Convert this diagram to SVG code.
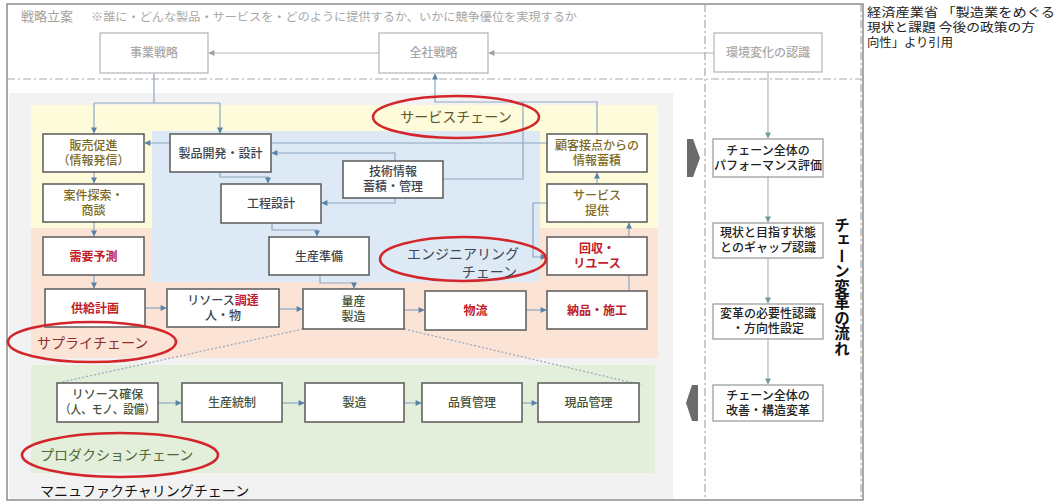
<svg xmlns="http://www.w3.org/2000/svg" width="1061" height="503" viewBox="0 0 1061 503">
<style>
text{font-family:'Noto Sans CJK JP','Noto Sans',sans-serif;}
.bx{fill:#fff;stroke:#5a5a5a;stroke-width:1.5;}
.sb{fill:#fff;stroke:#b4b4b4;stroke-width:1.2;}
.fb{fill:#fff;stroke:#8c8c8c;stroke-width:1.1;}
.t{font-size:12px;text-anchor:middle;font-weight:500;}
.dk{fill:#3c4450;}
.ol{fill:#7d6a1e;}
.rd{fill:#c0202a;font-weight:bold;}
.gn{fill:#45523a;}
.st{fill:#a8a8a8;}
.c{fill:none;stroke:#8ea7c2;stroke-width:1.2;}
.cg{fill:none;stroke:#b5b5b5;stroke-width:1.2;}
.dd{fill:none;stroke:#a8a8a8;stroke-width:1.2;stroke-dasharray:8 3 2 3;}
.dot{fill:none;stroke:#9aabc0;stroke-width:1.3;stroke-dasharray:2 2;}
.el{fill:none;stroke:#d3262a;stroke-width:2.6;}
.lbl{font-size:14px;}
</style>
<defs>
<marker id="ab" viewBox="0 0 10 10" refX="9" refY="5" markerWidth="7" markerHeight="6" markerUnits="userSpaceOnUse" orient="auto"><path d="M0,0 L10,5 L0,10 z" fill="#5a83ab"/></marker>
<marker id="ag" viewBox="0 0 10 10" refX="9" refY="5" markerWidth="7" markerHeight="6" markerUnits="userSpaceOnUse" orient="auto"><path d="M0,0 L10,5 L0,10 z" fill="#a0a0a0"/></marker>
<marker id="at" viewBox="0 0 10 10" refX="9" refY="5" markerWidth="7" markerHeight="6" markerUnits="userSpaceOnUse" orient="auto"><path d="M0,0 L10,5 L0,10 z" fill="#6f9a9e"/></marker>
</defs>
<rect width="1061" height="503" fill="#fff"/>
<g id="backgrounds">
<rect x="9" y="93" width="664" height="406" fill="#f2f2f2"/>
<rect x="31" y="105" width="627" height="124" fill="#fdfbda"/>
<rect x="31" y="228" width="627" height="130" fill="#fbe4d6"/>
<rect x="152" y="131" width="388" height="151" fill="#dde9f5"/>
<rect x="31" y="365" width="624" height="108" fill="#e3efda"/>
</g>
<g id="frame">
<rect x="7" y="4" width="856" height="496" fill="none" stroke="#7a7a7a" stroke-width="1.3"/>
<line class="dd" x1="7" y1="79" x2="863" y2="79"/>
<line class="dd" x1="705" y1="4" x2="705" y2="500"/>
<line class="dd" x1="861" y1="4" x2="861" y2="500"/>
</g>
<text x="21" y="21" style="font-size:13px" fill="#a0a0a0">戦略立案</text>
<text x="91" y="21" style="font-size:11.5px" fill="#a8a8a8" textLength="486" lengthAdjust="spacingAndGlyphs">※誰に・どんな製品・サービスを・どのように提供するか、いかに競争優位を実現するか</text>
<g id="connectors">
<line class="cg" x1="379" y1="53" x2="209" y2="53" marker-end="url(#ag)"/>
<line class="cg" x1="714" y1="53" x2="489" y2="53" marker-end="url(#ag)"/>
<path class="c" d="M154,73 V103 M94,103 H220"/>
<line class="c" x1="94" y1="103" x2="94" y2="133" marker-end="url(#ab)"/>
<line class="c" x1="220" y1="103" x2="220" y2="133" marker-end="url(#ab)"/>
<path class="c" d="M597,134 V102 H435 V74" marker-end="url(#ab)"/>
<path class="c" d="M547,143 H145" marker-end="url(#ab)"/>
<path class="c" d="M395,161 V153 H272" marker-end="url(#ab)"/>
<path class="c" d="M395,198 V203 H322" marker-end="url(#ab)"/>
<path class="c" d="M443,179 H523 V102"/>
<path class="c" d="M220,172 V177 H268 V183" marker-end="url(#ab)"/>
<path class="c" d="M272,223 V230 H317 V236" marker-end="url(#ab)"/>
<path class="c" d="M320,275 V283 H354 V288" marker-end="url(#ab)"/>
<line class="c" x1="94" y1="172" x2="94" y2="183" marker-end="url(#ab)"/>
<line class="c" x1="94" y1="222" x2="94" y2="236" marker-end="url(#ab)"/>
<line class="c" x1="94" y1="275" x2="94" y2="288" marker-end="url(#ab)"/>
<line class="c" x1="145" y1="308" x2="166" y2="308" marker-end="url(#ab)"/>
<line class="c" x1="279" y1="309" x2="302" y2="309" marker-end="url(#ab)"/>
<line class="c" x1="404" y1="310" x2="424" y2="310" marker-end="url(#ab)"/>
<line class="c" x1="526" y1="310" x2="546" y2="310" marker-end="url(#ab)"/>
<line class="c" x1="597" y1="184" x2="597" y2="173" marker-end="url(#ab)"/>
<line class="c" x1="629" y1="291" x2="629" y2="223" marker-end="url(#ab)"/>
<path class="c" d="M547,203 H533 V257 H546" marker-end="url(#ab)"/>
<line class="c" x1="158" y1="403" x2="181" y2="403" marker-end="url(#ab)"/>
<line class="c" x1="282" y1="403" x2="304" y2="403" marker-end="url(#ab)"/>
<line class="c" x1="404" y1="403" x2="421" y2="403" marker-end="url(#ab)"/>
<line class="c" x1="522" y1="403" x2="537" y2="403" marker-end="url(#ab)"/>
<line class="dot" x1="303" y1="329" x2="62" y2="382"/>
<line class="dot" x1="404" y1="329" x2="642" y2="385"/>
<line class="cg" x1="768" y1="72" x2="768" y2="138" marker-end="url(#at)"/>
<line class="cg" x1="768" y1="177" x2="768" y2="222" marker-end="url(#at)"/>
<line class="cg" x1="768" y1="258" x2="768" y2="303" marker-end="url(#at)"/>
<line class="cg" x1="768" y1="339" x2="768" y2="384" marker-end="url(#at)"/>
</g>
<g id="n-jigyo"><rect class="sb" x="100" y="33" width="108" height="40"/><text class="t st" x="154" y="57">事業戦略</text></g>
<g id="n-zensha"><rect class="sb" x="379" y="33" width="109" height="40"/><text class="t st" x="433.5" y="57">全社戦略</text></g>
<g id="n-kankyo"><rect class="sb" x="714" y="33" width="108" height="39"/><text class="t st" x="768" y="57">環境変化の認識</text></g>
<g id="n-hanbai"><rect class="bx" x="43" y="134" width="101" height="38"/><text class="t ol" x="93.5" y="150">販売促進</text><text class="t ol" x="93.5" y="165">（情報発信）</text></g>
<g id="n-anken"><rect class="bx" x="43" y="184" width="101" height="38"/><text class="t ol" x="93.5" y="200">案件探索・</text><text class="t ol" x="93.5" y="215">商談</text></g>
<g id="n-juyo"><rect class="bx" x="43" y="237" width="101" height="38"/><text class="t rd" x="93.5" y="260.5">需要予測</text></g>
<g id="n-kyokyu"><rect class="bx" x="45" y="289" width="100" height="38"/><text class="t rd" x="95" y="312.5">供給計画</text></g>
<g id="n-resource"><rect class="bx" x="167" y="289" width="112" height="38"/><text class="t dk" x="223" y="304.5">リソース<tspan fill="#c0202a" font-weight="bold">調達</tspan></text><text class="t dk" x="223" y="320">人・物</text></g>
<g id="n-ryosan"><rect class="bx" x="303" y="289" width="101" height="40"/><text class="t gn" x="353.5" y="305.5">量産</text><text class="t gn" x="353.5" y="321">製造</text></g>
<g id="n-butsuryu"><rect class="bx" x="425" y="291" width="101" height="39"/><text class="t rd" x="475.5" y="315">物流</text></g>
<g id="n-nohin"><rect class="bx" x="547" y="291" width="100" height="38"/><text class="t rd" x="597" y="314.5">納品・施工</text></g>
<g id="n-kokyaku"><rect class="bx" x="547" y="134" width="100" height="38"/><text class="t ol" x="597" y="149.5">顧客接点からの</text><text class="t ol" x="597" y="164.5">情報蓄積</text></g>
<g id="n-service"><rect class="bx" x="547" y="184" width="100" height="38"/><text class="t ol" x="597" y="200">サービス</text><text class="t ol" x="597" y="215">提供</text></g>
<g id="n-kaishu"><rect class="bx" x="547" y="237" width="100" height="38"/><text class="t rd" x="597" y="252.5">回収・</text><text class="t rd" x="597" y="267.5">リユース</text></g>
<g id="n-seihin"><rect class="bx" x="170" y="134" width="101" height="38"/><text class="t dk" x="220.5" y="157.5">製品開発・設計</text></g>
<g id="n-kotei"><rect class="bx" x="221" y="184" width="100" height="39"/><text class="t dk" x="271" y="208">工程設計</text></g>
<g id="n-seisan"><rect class="bx" x="269" y="237" width="100" height="38"/><text class="t dk" x="319" y="260.5">生産準備</text></g>
<g id="n-gijutsu"><rect class="bx" x="343" y="161" width="100" height="37"/><text class="t dk" x="393" y="176">技術情報</text><text class="t dk" x="393" y="191">蓄積・管理</text></g>
<g id="n-kakuho"><rect class="bx" x="57" y="383" width="101" height="39"/><text class="t gn" x="107.5" y="399">リソース確保</text><text class="t gn" x="107.5" y="414" textLength="95" lengthAdjust="spacingAndGlyphs">（人、モノ、設備）</text></g>
<g id="n-tosei"><rect class="bx" x="182" y="383" width="100" height="39"/><text class="t gn" x="232" y="407">生産統制</text></g>
<g id="n-seizo"><rect class="bx" x="305" y="383" width="99" height="39"/><text class="t gn" x="354.5" y="407">製造</text></g>
<g id="n-hinshitsu"><rect class="bx" x="422" y="383" width="100" height="39"/><text class="t gn" x="472" y="407">品質管理</text></g>
<g id="n-genpin"><rect class="bx" x="538" y="383" width="101" height="39"/><text class="t gn" x="588.5" y="407">現品管理</text></g>
<g id="labels">
<ellipse class="el" cx="456" cy="117" rx="83" ry="21"/>
<text class="lbl" x="456" y="122" text-anchor="middle" fill="#5e5433">サービスチェーン</text>
<ellipse class="el" cx="463" cy="259" rx="83" ry="22"/>
<text class="lbl" x="407" y="259" fill="#3c4656">エンジニアリング</text>
<text class="lbl" x="517" y="277" text-anchor="end" fill="#3c4656">チェーン</text>
<ellipse class="el" cx="92" cy="342" rx="84" ry="20"/>
<text class="lbl" x="37" y="348" fill="#8a2f2a">サプライチェーン</text>
<ellipse class="el" cx="120" cy="455" rx="98" ry="22"/>
<text class="lbl" x="40" y="460" fill="#4d6b3a">プロダクションチェーン</text>
<text class="lbl" x="40" y="496" fill="#111">マニュファクチャリングチェーン</text>
</g>
<polygon points="687,139 693,139 700,158 693,177 687,177" fill="#6b6b6b"/>
<polygon points="698,385 692,385 686,403 692,421 698,421" fill="#6b6b6b"/>
<g id="n-perf"><rect class="fb" x="713" y="139" width="110" height="38"/><text class="t" fill="#222" x="768" y="154.5">チェーン全体の</text><text class="t" fill="#222" x="768" y="170" textLength="108" lengthAdjust="spacingAndGlyphs">パフォーマンス評価</text></g>
<g id="n-gap"><rect class="fb" x="713" y="223" width="110" height="35"/><text class="t" fill="#222" x="768" y="237">現状と目指す状態</text><text class="t" fill="#222" x="768" y="252">とのギャップ認識</text></g>
<g id="n-hitsuyo"><rect class="fb" x="713" y="304" width="110" height="35"/><text class="t" fill="#222" x="768" y="318">変革の必要性認識</text><text class="t" fill="#222" x="768" y="333">・方向性設定</text></g>
<g id="n-kaizen"><rect class="fb" x="713" y="385" width="110" height="36"/><text class="t" fill="#222" x="768" y="399.5">チェーン全体の</text><text class="t" fill="#222" x="768" y="415">改善・構造変革</text></g>
<text id="flow-title" x="842" y="217" style="font-size:15.5px;font-weight:bold;writing-mode:vertical-rl" fill="#111">チェーン変革の流れ</text>
<g id="citation" fill="#222" style="font-size:12px">
<text x="867" y="17" textLength="188" lengthAdjust="spacingAndGlyphs">経済産業省 「製造業をめぐる</text>
<text x="867" y="32" textLength="168" lengthAdjust="spacingAndGlyphs">現状と課題 今後の政策の方</text>
<text x="867" y="47" textLength="86" lengthAdjust="spacingAndGlyphs">向性」より引用</text>
</g>
</svg>
